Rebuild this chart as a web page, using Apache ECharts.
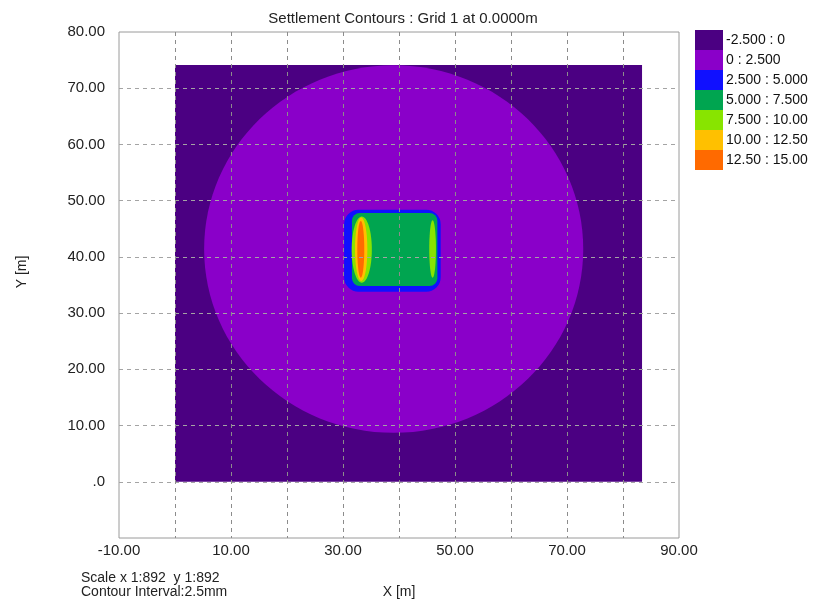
<!DOCTYPE html>
<html>
<head>
<meta charset="utf-8">
<script src="https://cdn.jsdelivr.net/npm/echarts@6/dist/echarts.min.js"></script>
<style>
html,body{margin:0;padding:0;background:#fff;}
#chart{width:816px;height:603px;}
</style>
</head>
<body>
<div id="chart"></div>
<script>
// ---- data ----
const chartTitle = 'Settlement Contours : Grid 1 at 0.0000m';
const levelLabels = ['-2.500 : 0', '0 : 2.500', '2.500 : 5.000', '5.000 : 7.500', '7.500 : 10.00', '10.00 : 12.50', '12.50 : 15.00'];
const levelColors = ['#4B0082', '#8A00C9', '#1010FF', '#00A550', '#88E400', '#FFC000', '#FF6A00'];
// contour zones per level: [xMin, yMin, xMax, yMax, shape (0 rect, 1 ellipse, 2 rounded rect), corner radius (m)]
const zonesLevel0 = [[0, 0, 83.4, 74.15, 0, 0]];
const zonesLevel1 = [[5.2, 8.7, 72.9, 74.1, 1, 0]];
const zonesLevel2 = [[30.2, 33.8, 47.45, 48.4, 2, 2.6]];
const zonesLevel3 = [[31.6, 34.8, 46.85, 47.8, 2, 1.4]];
const zonesLevel4 = [[31.55, 35.4, 35.15, 47.2, 1, 0], [45.4, 36.3, 46.6, 46.5, 1, 0]];
const zonesLevel5 = [[32.15, 35.7, 34.35, 47.0, 1, 0]];
const zonesLevel6 = [[32.55, 36.3, 33.8, 46.4, 1, 0]];
const zones = [zonesLevel0, zonesLevel1, zonesLevel2, zonesLevel3, zonesLevel4, zonesLevel5, zonesLevel6];
const xLabelValues = [-10, 10, 30, 50, 70, 90];
const yLabelValues = [0, 10, 20, 30, 40, 50, 60, 70, 80];
const footerLines = ['Scale x 1:892  y 1:892', 'Contour Interval:2.5mm'];
const xAxisName = 'X [m]';
const yAxisName = 'Y [m]';

const FONT = '"Liberation Sans", Arial, sans-serif';
const chart = echarts.init(document.getElementById('chart'), null, {renderer: 'canvas'});

function renderZone(params, api) {
  const x0 = api.value(0), y0 = api.value(1), x1 = api.value(2), y1 = api.value(3);
  const kind = api.value(4), r = api.value(5);
  const p0 = api.coord([x0, y0]);
  const p1 = api.coord([x1, y1]);
  const left = Math.min(p0[0], p1[0]);
  const top = Math.min(p0[1], p1[1]);
  const w = Math.abs(p1[0] - p0[0]);
  const h = Math.abs(p1[1] - p0[1]);
  const style = {fill: api.visual('color'), stroke: null};
  if (kind === 1) {
    return {type: 'ellipse', shape: {cx: left + w / 2, cy: top + h / 2, rx: w / 2, ry: h / 2}, style};
  }
  const rr = kind === 2 ? api.size([r, r])[0] : 0;
  return {type: 'rect', shape: {x: left, y: top, width: w, height: h, r: rr}, style};
}

const series = levelLabels.map((name, i) => ({
  type: 'custom',
  name: name,
  coordinateSystem: 'cartesian2d',
  renderItem: renderZone,
  itemStyle: {color: levelColors[i]},
  encode: {x: [0, 2], y: [1, 3]},
  data: zones[i],
  silent: true,
  animation: false,
  z: 2
}));

const option = {
  animation: false,
  backgroundColor: '#ffffff',
  title: {
    text: chartTitle,
    left: 398,
    top: 6,
    textAlign: 'center',
    textStyle: {fontFamily: FONT, fontSize: 15, fontWeight: 'normal', color: '#222'}
  },
  legend: {
    orient: 'vertical',
    left: 695,
    top: 30,
    padding: 0,
    itemWidth: 28,
    itemHeight: 20,
    itemGap: 0,
    icon: 'rect',
    selectedMode: false,
    data: levelLabels,
    textStyle: {fontFamily: FONT, fontSize: 14, color: '#111', padding: [0, 0, 0, -2]}
  },
  grid: {
    left: 119, right: 137, top: 32, bottom: 65,
    show: true, borderColor: '#9a9a9a', borderWidth: 1, backgroundColor: 'transparent'
  },
  xAxis: {
    type: 'value', min: -10, max: 90, interval: 10, z: 5,
    axisLine: {show: false},
    axisTick: {show: false},
    axisLabel: {
      fontFamily: FONT, fontSize: 15, color: '#222', margin: 5,
      formatter: v => xLabelValues.indexOf(v) >= 0 ? v.toFixed(2) : ''
    },
    splitLine: {show: true, showMinLine: false, showMaxLine: false,
      lineStyle: {color: '#8c8c8c', type: [4, 4], width: 1}}
  },
  yAxis: {
    type: 'value', min: -10, max: 80, interval: 10, z: 5,
    axisLine: {show: false},
    axisTick: {show: false},
    axisLabel: {
      fontFamily: FONT, fontSize: 15, color: '#222', margin: 14,
      formatter: v => yLabelValues.indexOf(v) >= 0 ? (v === 0 ? '.0' : v.toFixed(2)) : ''
    },
    splitLine: {show: true, showMinLine: false, showMaxLine: false,
      lineStyle: {color: '#a4a4a4', type: [4, 4], width: 1}}
  },
  graphic: [
    {type: 'text', x: 22, y: 272, rotation: Math.PI / 2,
      style: {text: yAxisName, font: '14px ' + FONT, fill: '#222', textAlign: 'center', textVerticalAlign: 'middle'}},
    {type: 'text', x: 399, y: 592,
      style: {text: xAxisName, font: '14px ' + FONT, fill: '#222', textAlign: 'center', textVerticalAlign: 'middle'}},
    {type: 'text', x: 81, y: 578,
      style: {text: footerLines[0], font: '14px ' + FONT, fill: '#222', textAlign: 'left', textVerticalAlign: 'middle'}},
    {type: 'text', x: 81, y: 592,
      style: {text: footerLines[1], font: '14px ' + FONT, fill: '#222', textAlign: 'left', textVerticalAlign: 'middle'}}
  ],
  series: series
};
chart.setOption(option);
</script>
</body>
</html>
